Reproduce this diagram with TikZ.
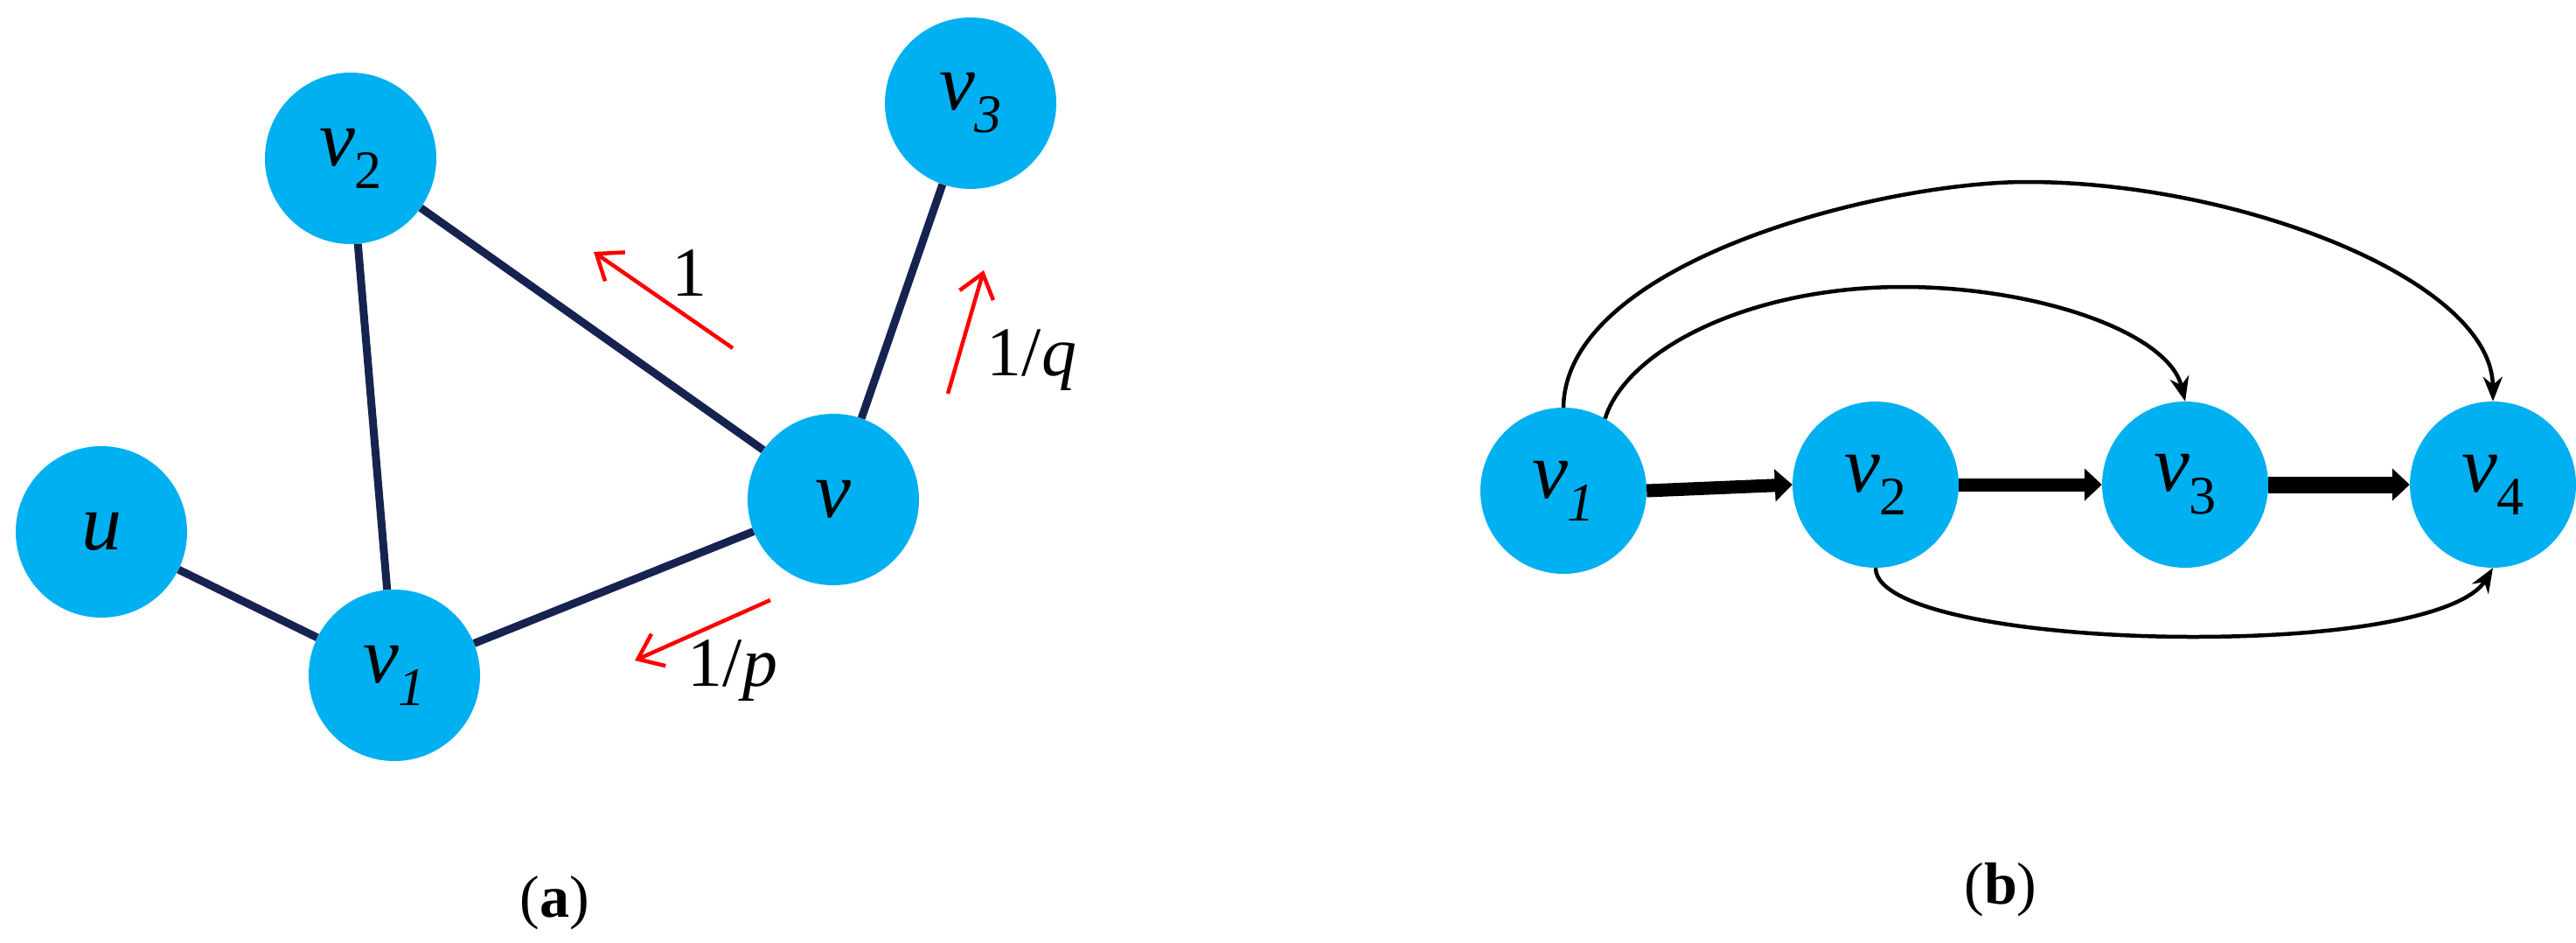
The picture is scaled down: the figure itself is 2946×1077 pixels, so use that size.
\documentclass[tikz,border=0pt]{standalone}
\usepackage{fontspec}
\setmainfont{Liberation Serif}
\usetikzlibrary{arrows.meta}
\definecolor{nodeblue}{RGB}{0,176,240}
\definecolor{edgenavy}{RGB}{22,35,80}
\newcommand{\vx}[2]{\textit{v}\raisebox{-0.28em}{\fontsize{62}{62}\selectfont #2{#1}}}
\begin{document}
\begin{tikzpicture}[x=1pt,y=-1pt,
  vert/.style={circle,fill=nodeblue,minimum size=196pt,inner sep=0pt,font=\fontsize{92}{92}\selectfont},
  vertb/.style={vert,minimum size=190pt},
  edge/.style={draw=edgenavy,line width=9pt},
  redarr/.style={draw=red,line width=4.5pt,-{Straight Barb[length=26pt,width=40pt,line width=4.5pt]}},
  curv/.style={draw=black,line width=4.5pt,-{Stealth[length=28pt,width=22pt]}},
  fatarr/.style={draw=black,line width=15pt,-{Triangle[length=20pt,width=36pt]}},
  lab/.style={font=\fontsize{80}{80}\selectfont},
  captxt/.style={font=\fontsize{68}{68}\selectfont}]
\useasboundingbox (0,0) rectangle (2946,1077);
% panel (a)
\node[vert] (u) at (116,608) {\textit{u}};
\node[vert] (a1) at (451,772) {\vx{1}{\itshape}};
\node[vert] (a2) at (401,181) {\vx{2}{}};
\node[vert] (v) at (953,571) {\textit{v}};
\node[vert] (a3) at (1110,118) {\vx{3}{\itshape}};
\draw[edge] (u) -- (a1);
\draw[edge] (a1) -- (a2);
\draw[edge] (a2) -- (v);
\draw[edge] (a1) -- (v);
\draw[edge] (v) -- (a3);
\coordinate (r1s) at (838,398); \coordinate (r1e) at (679,288);
\coordinate (rqs) at (1084,450); \coordinate (rqe) at (1125,309);
\coordinate (rps) at (881,686); \coordinate (rpe) at (726,755);
\draw[redarr] (r1s) -- (r1e);
\draw[redarr] (rqs) -- (rqe);
\draw[redarr] (rps) -- (rpe);
\node[lab] (l1) at (788,312) {1};
\node[lab] (lq) at (1180,412) {1/\textit{q}};
\node[lab] (lp) at (838,767) {1/\textit{p}};
\node[captxt] (ca) at (634,1032) {(\textbf{a})};
% panel (b)
\node[vertb] (b1) at (1788,561) {\vx{1}{\itshape}};
\node[vertb] (b2) at (2145,554) {\vx{2}{}};
\node[vertb] (b3) at (2499,554) {\vx{3}{}};
\node[vertb] (b4) at (2851,554) {\vx{4}{}};
\draw[fatarr] (b1.east) -- (b2.west);
\draw[fatarr] (b2.east) -- (b3.west);
\draw[fatarr,line width=19pt] (b3.east) -- (b4.west);
\draw[curv] (b1.north) .. controls (1790,300) and (2150,208) .. (2318,208) .. controls (2560,208) and (2850,320) .. (b4.north);
\draw[curv] (b1.60) .. controls (1860,400) and (2000,328) .. (2176,328) .. controls (2330,328) and (2480,380) .. (b3.north);
\draw[curv] (b2.south) .. controls (2145,700) and (2330,728) .. (2508,728) .. controls (2700,728) and (2820,700) .. (b4.south);
\node[captxt] (cb) at (2288,1017) {(\textbf{b})};
\end{tikzpicture}
\end{document}
